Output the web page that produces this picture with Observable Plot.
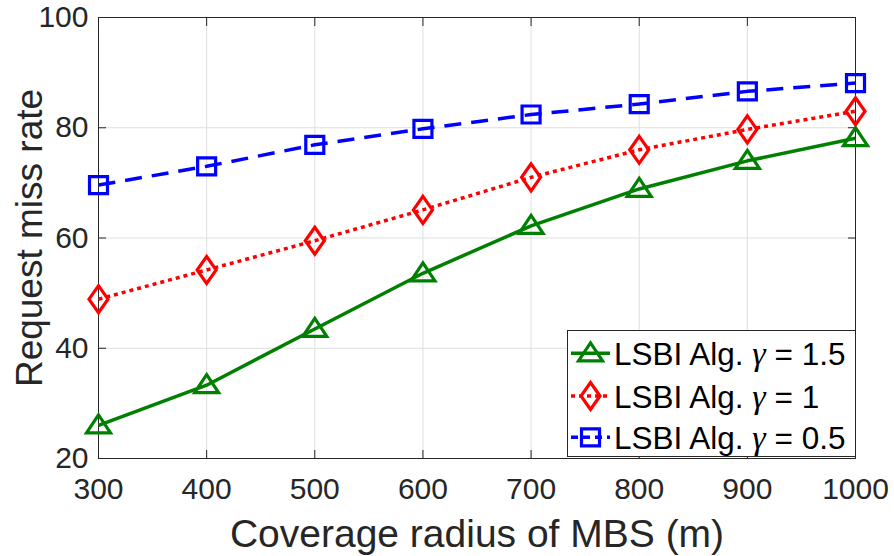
<!DOCTYPE html>
<html>
<head>
<meta charset="utf-8">
<script src="https://cdn.jsdelivr.net/npm/d3@7"></script>
<script src="https://cdn.jsdelivr.net/npm/@observablehq/plot@0.6"></script>
<style>
  html, body { margin: 0; padding: 0; background: #fff; }
  #chart { width: 894px; height: 556px; }
</style>
</head>
<body>
<div id="chart"></div>
<script>
// ---- data ----
const radius = [300, 400, 500, 600, 700, 800, 900, 1000];
const missGamma15 = [26.0, 33.3, 43.5, 53.6, 62.2, 68.9, 74.0, 78.1];
const missGamma1  = [48.9, 54.2, 59.5, 65.1, 71.0, 76.0, 79.7, 83.0];
const missGamma05 = [69.6, 73.0, 76.9, 79.8, 82.4, 84.3, 86.6, 88.1];
const xTicks = [300, 400, 500, 600, 700, 800, 900, 1000];
const yTicks = [20, 40, 60, 80, 100];
const legendPrefix = "LSBI Alg. ";
const gammaSymbol = "γ";
const gammaLabels = ["1.5", "1", "0.5"];
const xLabel = "Coverage radius of MBS (m)";
const yLabel = "Request miss rate";

// ---- symbols (MATLAB-like) ----
const triangleSym = {draw(c) { c.moveTo(0, -10.5); c.lineTo(12, 7.5); c.lineTo(-12, 7.5); c.closePath(); }};
const diamondSym  = {draw(c) { c.moveTo(0, -13.5); c.lineTo(9.5, 0); c.lineTo(0, 13.5); c.lineTo(-9.5, 0); c.closePath(); }};
const squareSym   = {draw(c) { c.rect(-9, -8.5, 18, 17); }};

const series = [
  {values: missGamma15, color: "#008000", dash: null, symbol: triangleSym},
  {values: missGamma1,  color: "#ff0000", dash: "4,4", symbol: diamondSym},
  {values: missGamma05, color: "#0000ff", dash: "17,10", symbol: squareSym}
];

const rows = s => radius.map((x, i) => ({x, y: s.values[i]}));

const marks = [
  Plot.gridX(xTicks, {stroke: "#dfdfdf", strokeOpacity: 1, strokeWidth: 1}),
  Plot.gridY(yTicks, {stroke: "#dfdfdf", strokeOpacity: 1, strokeWidth: 1}),
  // inward ticks on all four sides
  Plot.axisX(xTicks, {anchor: "bottom", tickSize: 8, dy: -8, tickFormat: () => "", label: null, stroke: "#262626"}),
  Plot.axisX(xTicks, {anchor: "top", tickSize: 8, dy: 8, tickFormat: () => "", label: null, stroke: "#262626"}),
  Plot.axisY(yTicks, {anchor: "left", tickSize: 8, dx: 8, tickFormat: () => "", label: null, stroke: "#262626"}),
  Plot.axisY(yTicks, {anchor: "right", tickSize: 8, dx: -8, tickFormat: () => "", label: null, stroke: "#262626"}),
  // tick labels
  Plot.axisX(xTicks, {anchor: "bottom", tickSize: 0, tickPadding: 19, fontSize: 30, tickFormat: d => String(d), label: null, fill: "#262626"}),
  Plot.axisY(yTicks, {anchor: "left", tickSize: 0, tickPadding: 10, fontSize: 30, tickFormat: d => String(d), label: null, fill: "#262626"}),
  Plot.frame({stroke: "#262626", strokeWidth: 1})
];

for (const s of series) {
  marks.push(Plot.line(rows(s), {x: "x", y: "y", stroke: s.color, strokeWidth: 3.5,
    strokeDasharray: s.dash, strokeLinecap: "butt", strokeLinejoin: "miter"}));
  marks.push(Plot.dot(rows(s), {x: "x", y: "y", symbol: s.symbol, stroke: s.color, strokeWidth: 3.2, fill: "none", r: 10}));
}

marks.push(Plot.text([xLabel], {text: d => d, frameAnchor: "bottom", textAnchor: "middle", dy: 76.5, fontSize: 39, lineAnchor: "middle", fill: "#262626"}));
marks.push(Plot.text([yLabel], {text: d => d, frameAnchor: "left", textAnchor: "middle", rotate: -90, dx: -68.8, fontSize: 37, lineAnchor: "middle", fill: "#262626"}));

const chart = Plot.plot({
  width: 894,
  height: 556,
  marginLeft: 98,
  marginRight: 39,
  marginTop: 17,
  marginBottom: 98,
  style: {fontFamily: "'Liberation Sans', Arial, Helvetica, sans-serif", color: "#262626", background: "#fff", overflow: "visible"},
  x: {domain: [300, 1000]},
  y: {domain: [20, 100]},
  marks
});

// ---- legend (inside plot, lower right) ----
const svg = d3.select(chart);
const lg = svg.append("g").attr("text-anchor", "start");
const box = {x0: 567.5, y0: 330.5, x1: 855.5, y1: 456.5};
lg.append("rect").attr("x", box.x0).attr("y", box.y0)
  .attr("width", box.x1 - box.x0).attr("height", box.y1 - box.y0)
  .attr("fill", "#fff").attr("stroke", "#262626").attr("stroke-width", 1);
const rowY = [353.3, 396, 437.3];
series.forEach((s, i) => {
  const y = rowY[i];
  lg.append("line").attr("x1", 571).attr("x2", 610).attr("y1", y).attr("y2", y)
    .attr("stroke", s.color).attr("stroke-width", 3.5)
    .attr("stroke-dasharray", s.dash ? (i === 2 ? "7,5" : s.dash) : null);
  lg.append("path").attr("d", d3.symbol(s.symbol)()).attr("transform", `translate(590.5,${y})`)
    .attr("fill", "none").attr("stroke", s.color).attr("stroke-width", 3.2);
  const t = lg.append("text").attr("x", 614).attr("y", y + 12)
    .attr("text-anchor", "start")
    .attr("font-size", 31.5).attr("fill", "#000")
    .attr("font-family", "'Liberation Sans', Arial, sans-serif");
  t.append("tspan").text(legendPrefix);
  t.append("tspan").attr("font-family", "'Liberation Serif', 'DejaVu Serif', serif").attr("font-style", "italic").attr("font-size", 34).text(gammaSymbol);
  t.append("tspan").text(" = " + gammaLabels[i]);
});

document.getElementById("chart").appendChild(chart);
</script>
</body>
</html>
